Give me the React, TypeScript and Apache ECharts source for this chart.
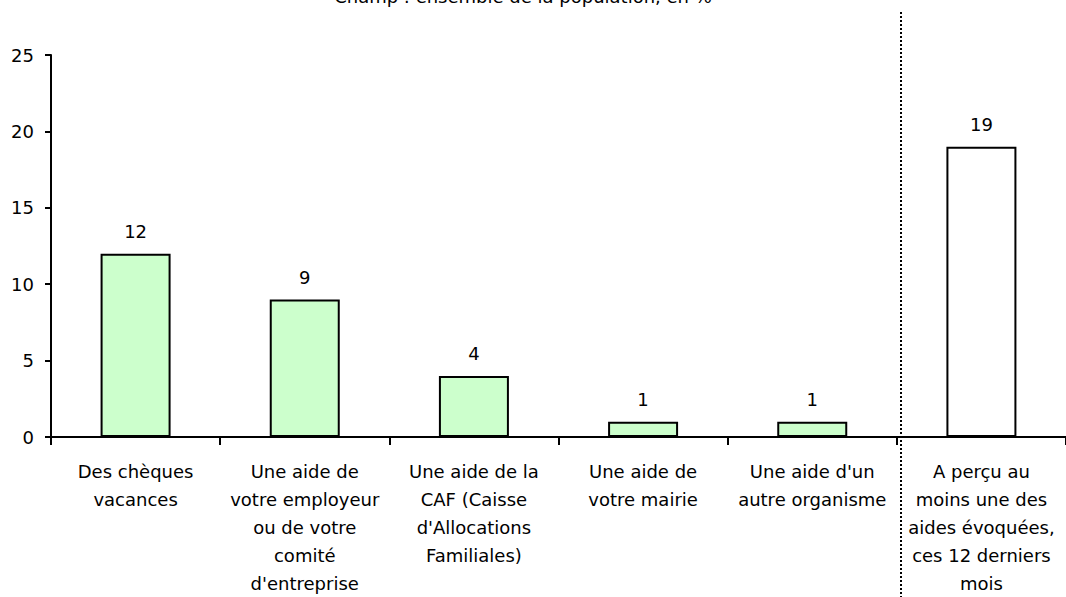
import React, { useEffect, useRef } from "react";
import * as echarts from "echarts";

const categories: string[] = [
  "Des chèques\nvacances",
  "Une aide de\nvotre employeur\nou de votre\ncomité\nd'entreprise",
  "Une aide de la\nCAF (Caisse\nd'Allocations\nFamiliales)",
  "Une aide de\nvotre mairie",
  "Une aide d'un\nautre organisme",
  "A perçu au\nmoins une des\naides évoquées,\nces 12 derniers\nmois",
];
const values: number[] = [12, 9, 4, 1, 1, 19];
const barColors: string[] = ["#CCFFCC", "#CCFFCC", "#CCFFCC", "#CCFFCC", "#CCFFCC", "#FFFFFF"];
const yTicks = { min: 0, max: 25, interval: 5 };
const subtitle = "Champ : ensemble de la population, en %";

const FONT = "'DejaVu Sans', Verdana, sans-serif";

export default function App() {
  const ref = useRef<HTMLDivElement>(null);
  useEffect(() => {
    if (!ref.current) return;
    const chart = echarts.init(ref.current, undefined, { renderer: "svg" });
    chart.setOption({
      animation: false,
      backgroundColor: "#ffffff",
      textStyle: { fontFamily: FONT },
      grid: { left: 51, top: 55, width: 1020, height: 385, containLabel: false },
      xAxis: {
        type: "category",
        data: categories,
        boundaryGap: true,
        axisLine: { lineStyle: { color: "#000", width: 2 } },
        axisTick: { show: true, interval: 0, length: 8, lineStyle: { color: "#000", width: 2 } },
        axisLabel: {
          interval: 0,
          color: "#000",
          fontFamily: FONT,
          fontSize: 18,
          lineHeight: 28,
          margin: 20,
        },
      },
      yAxis: {
        type: "value",
        min: yTicks.min,
        max: yTicks.max,
        interval: yTicks.interval,
        splitLine: { show: false },
        axisLine: { show: true, lineStyle: { color: "#000", width: 2 } },
        axisTick: { show: true, length: 6, lineStyle: { color: "#000", width: 2 } },
        axisLabel: { color: "#000", fontFamily: FONT, fontSize: 18, margin: 17 },
      },
      series: [
        {
          type: "bar",
          barWidth: 70,
          data: values.map((v, i) => ({
            value: v,
            itemStyle: { color: barColors[i], borderColor: "#000", borderWidth: 2 },
          })),
          label: {
            show: true,
            position: "top",
            distance: 13,
            color: "#000",
            fontFamily: FONT,
            fontSize: 18,
          },
        },
      ],
      graphic: [
        {
          type: "line",
          shape: { x1: 901, y1: 12, x2: 901, y2: 597 },
          style: { stroke: "#000", lineWidth: 2, lineDash: [2, 2] },
          z: 100,
        },
        {
          type: "text",
          x: 523,
          y: 5,
          style: {
            text: subtitle,
            fill: "#000",
            font: `18px ${FONT}`,
            textAlign: "center",
            textVerticalAlign: "bottom",
          },
        },
      ],
    });
    return () => chart.dispose();
  }, []);
  return (
    <div
      ref={ref}
      style={{ position: "absolute", left: 0, top: 0, width: 1066, height: 597 }}
    />
  );
}
